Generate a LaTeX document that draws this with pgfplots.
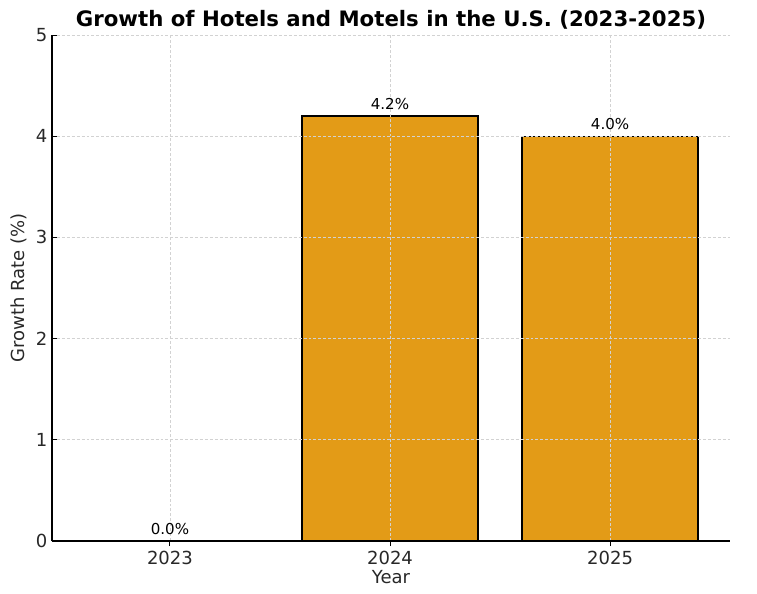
\documentclass[border=0pt]{standalone}
\usepackage{fontspec}
\setmainfont{DejaVu Sans}
\usepackage{pgfplots}
\pgfplotsset{compat=1.18}
\definecolor{barfill}{RGB}{227,155,23}
\definecolor{txt}{RGB}{40,40,40}
\definecolor{gridc}{RGB}{210,210,210}
\begin{document}
\begin{tikzpicture}[x=0.75pt,y=0.75pt]
% page frame: 757x593 px, axis box from (52,35) to (730,541) px
\useasboundingbox (-52,-52) rectangle (705,541);
\begin{axis}[
    at={(0,0)}, anchor=south west,
    scale only axis,
    width=508.5pt, height=379.5pt,
    xmin=-0.536, xmax=2.545,
    ymin=0, ymax=5,
    xtick={0,1,2},
    xticklabels={2023,2024,2025},
    ytick={0,1,2,3,4,5},
    axis lines*=left,
    axis line style={black, line width=0.9pt},
    tick style={black, line width=0.7pt},
    major tick length=3.75pt,
    tick align=inside,
    xmajorgrids, ymajorgrids,
    grid style={gridc, dash pattern=on 2.2pt off 1.5pt, line width=0.5pt},
    axis on top,
    ticklabel style={font=\fontsize{13.5}{15}\selectfont, text=txt},
    /pgf/number format/assume math mode=true,
    xlabel={Year},
    ylabel={Growth Rate (\%)},
    label style={font=\fontsize{13.5}{15}\selectfont, text=txt},
    xlabel style={yshift=2pt},
    ylabel style={yshift=-0.5pt},
    title={\textbf{Growth of Hotels and Motels in the U.S. (2023-2025)}},
    title style={font=\fontsize{15.95}{19}\selectfont, yshift=-5pt},
    ybar, bar width=0.8,
    nodes near coords={\pgfmathprintnumber[fixed,fixed zerofill,precision=1]{\pgfplotspointmeta}\%},
    every node near coord/.append style={font=\fontsize{11.3}{13}\selectfont, text=black, yshift=1pt},
    clip=false,
]
\addplot[fill=barfill, draw=black, line width=0.9pt]
    coordinates {(0,0) (1,4.2) (2,4.0)};
\end{axis}
\end{tikzpicture}
\end{document}
